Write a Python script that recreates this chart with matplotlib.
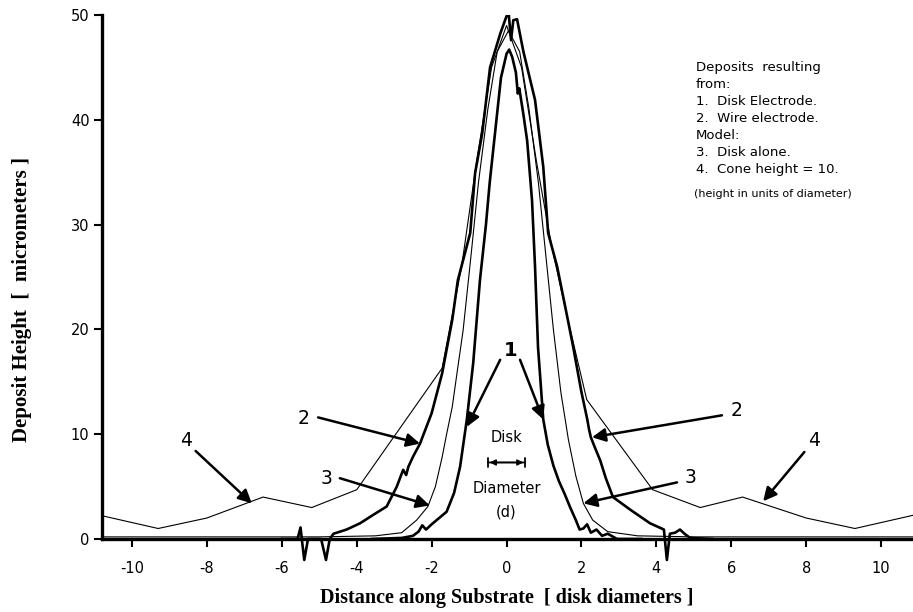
import matplotlib.pyplot as plt

plt.rcParams["axes.unicode_minus"] = False

# curve 1: disk electrode (measured)
x1 = [-3.6, -2.8, -2.5, -2.35, -2.25, -2.15, -2.0, -1.8, -1.6, -1.4, -1.24, -1.06, -0.89,
      -0.71, -0.55, -0.45, -0.3, -0.15, 0.0, 0.07, 0.15, 0.25, 0.3, 0.34, 0.45, 0.55, 0.68,
      0.76, 0.84, 0.98, 1.1, 1.25, 1.4, 1.55, 1.7, 1.85, 1.95, 2.05, 2.15, 2.25, 2.4, 2.55,
      2.7, 2.95, 3.6]
y1 = [0.0, 0.1, 0.3, 0.7, 1.3, 0.9, 1.4, 2.0, 2.6, 4.4, 6.9, 11.4, 16.8,
      24.7, 30.0, 34.0, 39.0, 44.0, 46.3, 46.7, 46.0, 44.5, 42.5, 43.0, 40.5, 38.0, 32.3,
      26.0, 18.3, 11.4, 9.0, 7.0, 5.5, 4.3, 3.0, 1.8, 0.9, 1.0, 1.4, 0.6, 0.9, 0.3,
      0.5, 0.0, 0.0]

# curve 2: wire electrode (measured)
x2 = [-6.0, -5.58, -5.5, -5.45, -5.4, -5.3, -4.95, -4.82, -4.72, -4.62, -4.27, -3.91, -3.56,
      -3.2, -2.93, -2.76, -2.68, -2.62, -2.49, -2.31, -2.0, -1.72, -1.45, -1.3, -1.16, -0.97,
      -0.84, -0.65, -0.44, -0.17, 0.0, 0.06, 0.12, 0.18, 0.28, 0.45, 0.76, 0.98, 1.11, 1.35,
      1.62, 1.78, 2.0, 2.15, 2.2, 2.25, 2.35, 2.5, 2.65, 2.84, 3.3, 3.83, 4.2, 4.28, 4.36,
      4.5, 4.63, 4.75, 4.9, 5.5]
y2 = [0.0, 0.0, 1.1, -0.5, -2.0, 0.0, 0.0, -2.0, 0.0, 0.5, 0.9, 1.5, 2.3,
      3.1, 5.0, 6.6, 6.1, 6.9, 7.9, 9.1, 12.0, 15.8, 20.9, 24.7, 26.6, 29.2,
      34.9, 38.7, 45.0, 48.2, 49.9, 50.0, 47.6, 49.5, 49.6, 46.5, 41.9, 35.5, 29.2, 26.0,
      21.2, 18.3, 14.0, 11.5, 10.5, 9.7, 8.8, 7.5, 5.8, 4.0, 2.8, 1.5, 0.9, -2.0, 0.5,
      0.6, 0.9, 0.5, 0.1, 0.0]

# curve 3: model, disk alone
x3 = [-10.9, -5.0, -3.5, -2.8, -2.4, -2.1, -1.9, -1.72, -1.6, -1.45, -1.3, -1.16, -0.95,
      -0.75, -0.5, -0.25, 0.05, 0.35, 0.6, 0.85, 1.05, 1.25, 1.45, 1.65, 1.85, 2.05, 2.3,
      2.7, 3.5, 5.0, 10.9]
y3 = [0.2, 0.2, 0.3, 0.6, 1.8, 3.1, 5.0, 7.8, 10.0, 12.6, 16.4, 19.9, 27.0,
      34.0, 41.0, 46.5, 48.5, 46.5, 41.0, 34.0, 27.0, 20.0, 14.0, 9.5, 6.0, 3.4, 1.8,
      0.7, 0.3, 0.2, 0.2]

# curve 4: model, cone height = 10
x4 = [-10.9, -9.3, -8.0, -6.5, -5.2, -4.0, -1.72, -1.2, -0.8, -0.4, 0.0, 0.4, 0.8, 1.2,
      1.6, 2.14, 3.9, 5.17, 6.3, 8.0, 9.3, 10.9]
y4 = [2.3, 1.0, 2.0, 4.0, 3.0, 4.7, 16.3, 26.0, 36.0, 45.0, 49.0, 45.0, 36.0, 28.0,
      21.5, 13.3, 4.7, 3.0, 4.0, 2.0, 1.0, 2.3]

x_ticks = [-10, -8, -6, -4, -2, 0, 2, 4, 6, 8, 10]
y_ticks = [0, 10, 20, 30, 40, 50]

# curve labels: (text, label position, arrow tail, arrow tip)
arrows = [
    ("2", (-5.43, 11.5), (-5.03, 11.6), (-2.31, 9.1)),
    ("3", (-4.8, 5.8), (-4.45, 5.8), (-2.05, 3.2)),
    ("4", (-8.55, 9.4), (-8.3, 8.4), (-6.8, 3.4)),
    ("2", (6.15, 12.3), (5.75, 11.8), (2.28, 9.7)),
    ("3", (4.9, 5.9), (4.55, 5.4), (2.05, 3.4)),
    ("4", (8.2, 9.4), (7.95, 8.3), (6.85, 3.6)),
]
one_tails = [(-0.17, 17.1), (0.36, 17.1)]
one_tips = [(-1.06, 10.7), (0.98, 11.4)]

legend_text = ("Deposits  resulting\nfrom:\n1.  Disk Electrode.\n2.  Wire electrode.\n"
               "Model:\n3.  Disk alone.\n4.  Cone height = 10.")

fig = plt.figure(figsize=(9.13, 6.12), dpi=100)
ax = fig.add_axes([0.1117, 0.0765, 0.8883, 0.899])

ax.plot(x3, y3, color="black", lw=0.8)
ax.plot(x4, y4, color="black", lw=0.8)
ax.plot(x2, y2, color="black", lw=1.9)
ax.plot(x1, y1, color="black", lw=1.9)

ax.set_xlim(-10.8, 10.85)
ax.set_ylim(-2.5, 50)
ax.spines["top"].set_visible(False)
ax.spines["right"].set_visible(False)
ax.spines["bottom"].set_position(("data", 0))
ax.spines["left"].set_bounds(0, 50)
ax.spines["left"].set_linewidth(2.4)
ax.spines["bottom"].set_linewidth(2.4)
ax.set_xticks(x_ticks)
ax.set_yticks(y_ticks)
ax.tick_params(axis="both", direction="out", length=6, width=1.5, labelsize=10.5)
ax.tick_params(axis="x", pad=10)
ax.tick_params(axis="y", pad=3)

arrow_kw = dict(arrowstyle="-|>", color="black", lw=1.8, mutation_scale=20,
                shrinkA=0, shrinkB=0)
for label, pos, tail, tip in arrows:
    ax.text(pos[0], pos[1], label, fontsize=13.5, ha="center", va="center")
    ax.annotate("", xy=tip, xytext=tail, arrowprops=arrow_kw)
ax.text(0.1, 18.0, "1", fontsize=14, fontweight="bold", ha="center", va="center")
for tail, tip in zip(one_tails, one_tips):
    ax.annotate("", xy=tip, xytext=tail, arrowprops=arrow_kw)

ax.text(0.0, 9.7, "Disk", fontsize=10.5, ha="center", va="center")
ax.annotate("", xy=(0.5, 7.3), xytext=(-0.5, 7.3),
            arrowprops=dict(arrowstyle="|-|,widthA=0.35,widthB=0.35", lw=1.3, color="black",
                            shrinkA=0, shrinkB=0))
ax.annotate("", xy=(0.45, 7.3), xytext=(-0.45, 7.3),
            arrowprops=dict(arrowstyle="<|-|>", lw=1.0, color="black", mutation_scale=9,
                            shrinkA=0, shrinkB=0))
ax.text(0.0, 4.8, "Diameter", fontsize=10.5, ha="center", va="center")
ax.text(0.0, 2.6, "(d)", fontsize=10.5, ha="center", va="center")

ax.text(5.05, 45.6, legend_text, fontsize=9.5, ha="left", va="top", linespacing=1.4)
ax.text(5.0, 33.4, "(height in units of diameter)", fontsize=8, ha="left", va="top")

fig.text(22 / 913, 1 - 300 / 612, "Deposit Height  [  micrometers ]", rotation=90,
         ha="center", va="center", fontsize=15, fontweight="bold", family="Liberation Serif")
fig.text(507 / 913, 1 - 598 / 612, "Distance along Substrate  [ disk diameters ]",
         ha="center", va="center", fontsize=14.5, fontweight="bold", family="Liberation Serif")

fig.savefig("out.png", dpi=100)
